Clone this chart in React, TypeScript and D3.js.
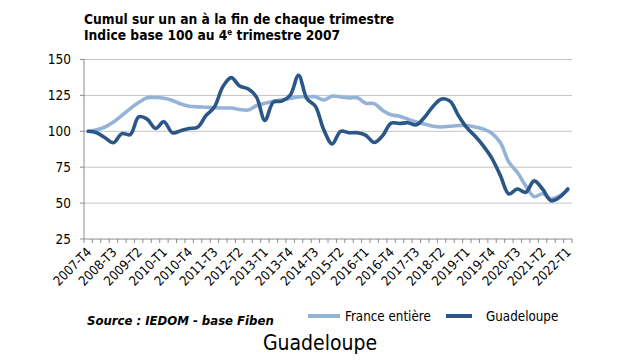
import React from "react";
import * as d3 from "d3";

const quarters = [
  "2007-T4",
  "2008-T1", "2008-T2", "2008-T3", "2008-T4",
  "2009-T1", "2009-T2", "2009-T3", "2009-T4",
  "2010-T1", "2010-T2", "2010-T3", "2010-T4",
  "2011-T1", "2011-T2", "2011-T3", "2011-T4",
  "2012-T1", "2012-T2", "2012-T3", "2012-T4",
  "2013-T1", "2013-T2", "2013-T3", "2013-T4",
  "2014-T1", "2014-T2", "2014-T3", "2014-T4",
  "2015-T1", "2015-T2", "2015-T3", "2015-T4",
  "2016-T1", "2016-T2", "2016-T3", "2016-T4",
  "2017-T1", "2017-T2", "2017-T3", "2017-T4",
  "2018-T1", "2018-T2", "2018-T3", "2018-T4",
  "2019-T1", "2019-T2", "2019-T3", "2019-T4",
  "2020-T1", "2020-T2", "2020-T3", "2020-T4",
  "2021-T1", "2021-T2", "2021-T3", "2021-T4",
  "2022-T1",
];

const tickLabels = [
  "2007-T4", "2008-T3", "2009-T2", "2010-T1", "2010-T4", "2011-T3", "2012-T2",
  "2013-T1", "2013-T4", "2014-T3", "2015-T2", "2016-T1", "2016-T4", "2017-T3",
  "2018-T2", "2019-T1", "2019-T4", "2020-T3", "2021-T2", "2022-T1",
];

const yTicks = [25, 50, 75, 100, 125, 150];

// indice France entière
const france = [
  100, 101, 103, 106.5, 111, 115.8, 120, 123.3, 123.5, 123, 121.5, 119, 117.5, 117, 116.8,
  116.5, 116.2, 116.2, 115.2, 114.8, 117.8, 119.5, 120.9, 122, 122.8, 124, 124, 124, 121.8,
  124.5, 124, 123.3, 123.3, 119.5, 119.3, 114.5, 111.5, 110.5, 108.5, 106.5, 105, 103.5,
  103, 103.5, 104, 104, 103, 101.5, 98.5, 92, 78.5, 71.5, 62, 54.5, 56.5, 53, 55, 59,
];

// indice Guadeloupe
const guadeloupe = [
  100, 99, 95.5, 92, 98.4, 97.7, 110, 108.5, 102, 106.7, 99, 100.4, 102, 102.8, 111,
  116.9, 131, 137.4, 131.5, 129.6, 123.8, 107.5, 120.3, 121, 125, 139, 122.6, 117.5, 101,
  91.2, 100, 99, 99, 97.2, 92.2, 97, 105.7, 105.4, 106, 104.5, 110, 117.5, 122.5, 121,
  111, 102.5, 96.5, 89.5, 81, 69, 56.4, 59.8, 57.5, 65.5, 59.8, 51.7, 54, 59.9,
];

const series = [
  { name: "France entière", values: france, color: "#95b3d7" },
  { name: "Guadeloupe", values: guadeloupe, color: "#2a5787" },
];

const W = 627;
const H = 361;
const left = 84;
const right = 572;
const top = 59.5;
const bottom = 239;
const font = "'DejaVu Sans Condensed', 'DejaVu Sans', sans-serif";

export default function App() {
  const x = d3.scaleBand<string>().domain(quarters).range([left, right]).padding(0);
  const cx = (q: string) => (x(q) as number) + x.bandwidth() / 2;
  const y = d3.scaleLinear().domain([25, 150]).range([bottom, top]);

  const line = d3
    .line<number>()
    .x((_, i) => cx(quarters[i]))
    .y((d) => y(d))
    .curve(d3.curveCatmullRom.alpha(0.5));

  const boundaries = quarters.map((q) => x(q) as number).concat([right]);

  return (
    <div style={{ position: "absolute", left: 0, top: 0 }}>
      <svg width={W} height={H} style={{ display: "block", background: "#fff" }}>
        <g fontFamily={font} fontWeight="bold" fontSize={13.7} fill="#000">
          <text x={84} y={24}>Cumul sur un an à la fin de chaque trimestre</text>
          <text x={84} y={40}>
            Indice base 100 au 4<tspan fontSize={8} dy={-5}>e</tspan>
            <tspan dy={5}> trimestre 2007</tspan>
          </text>
        </g>

        {/* grille */}
        {yTicks.filter((t) => t > 25).map((t) => (
          <line key={t} x1={left} x2={right} y1={y(t)} y2={y(t)} stroke="#c3c3c3" strokeWidth={1} />
        ))}
        {yTicks.map((t) => (
          <text key={"l" + t} x={71} y={y(t)} dy="0.36em" textAnchor="end" fontFamily={font} fontSize={13.5} fill="#000">
            {t}
          </text>
        ))}

        {/* axes */}
        <line x1={left} x2={left} y1={top} y2={bottom} stroke="#8c8c8c" />
        {yTicks.map((t) => (
          <line key={"yt" + t} x1={left - 4} x2={left} y1={y(t)} y2={y(t)} stroke="#8c8c8c" />
        ))}
        <line x1={left} x2={right} y1={bottom} y2={bottom} stroke="#8c8c8c" />
        {boundaries.map((b, i) => (
          <line key={"xt" + i} x1={b} x2={b} y1={bottom} y2={bottom + 4} stroke="#8c8c8c" />
        ))}
        {tickLabels.map((lab) => (
          <text
            key={lab}
            transform={`translate(${cx(lab) + 4},${bottom + 14}) rotate(-45)`}
            textAnchor="end"
            fontFamily={font}
            fontSize={13}
            fill="#000"
          >
            {lab}
          </text>
        ))}

        {/* courbes */}
        {series.map((s) => (
          <path
            key={s.name}
            d={line(s.values) as string}
            fill="none"
            stroke={s.color}
            strokeWidth={3.6}
            strokeLinejoin="round"
            strokeLinecap="round"
          />
        ))}

        {/* légende */}
        <text x={87} y={325} fontFamily={font} fontSize={13} fontWeight="bold" fontStyle="italic" fill="#000">
          Source : IEDOM - base Fiben
        </text>
        <line x1={308} x2={340} y1={316} y2={316} stroke={series[0].color} strokeWidth={4} />
        <text x={345} y={320.5} fontFamily={font} fontSize={13.3} fill="#000">{series[0].name}</text>
        <line x1={446} x2={472} y1={316} y2={316} stroke={series[1].color} strokeWidth={4} />
        <text x={486} y={320.5} fontFamily={font} fontSize={13.3} fill="#000">{series[1].name}</text>

        <text x={320} y={350} textAnchor="middle" fontFamily={font} fontSize={21} fill="#000">
          Guadeloupe
        </text>
      </svg>
    </div>
  );
}
